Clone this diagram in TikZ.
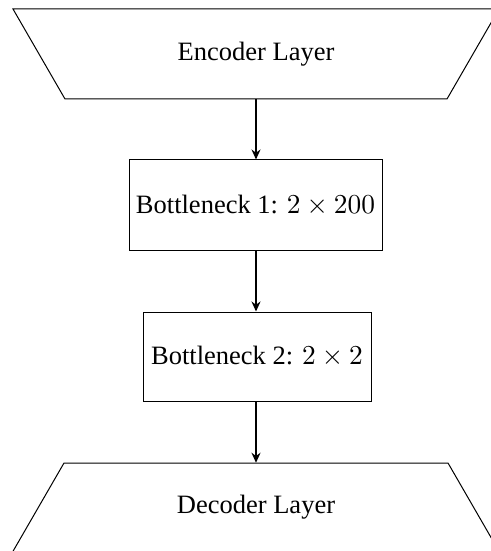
\documentclass[tikz,border=0pt]{standalone}
\usepackage{fontspec}
\setmainfont{Liberation Serif}
\usetikzlibrary{arrows.meta}
\begin{document}
\begin{tikzpicture}[x=0.4pt,y=-0.4pt,
  lbl/.style={inner sep=0pt, minimum height=#1, font=\fontsize{10.6}{13}\selectfont},
  box/.style={draw, line width=0.4pt, inner sep=0pt, font=\fontsize{10.6}{13}\selectfont},
  conn/.style={-{Stealth[length=4pt,width=3.6pt]}, line width=0.6pt}]
\useasboundingbox (0,0) rectangle (491,551);
\clip (0,0) rectangle (491,551);
% encoder
\draw (13,9) -- (499,9) -- (447,99) -- (65,99) -- cycle;
\node[lbl=36pt] (enc) at (256,54) {Encoder Layer};
% bottleneck boxes
\node[box, minimum width=101.2pt, minimum height=36pt] (b1) at (255.5,205) {Bottleneck 1: $2\times200$};
\node[box, minimum width=91.2pt, minimum height=35.6pt] (b2) at (257,356.5) {Bottleneck 2: $2\times2$};
% decoder
\draw (64,463) -- (448,463) -- (500,553) -- (12,553) -- cycle;
\node[lbl=35pt] (dec) at (256,507) {Decoder Layer};
% connectors
\draw[conn] (enc.south) -- (enc.south |- b1.north);
\draw[conn] (b1.south -| enc.south) -- (enc.south |- b2.north);
\draw[conn] (b2.south -| enc.south) -- (dec.north);
\end{tikzpicture}
\end{document}
